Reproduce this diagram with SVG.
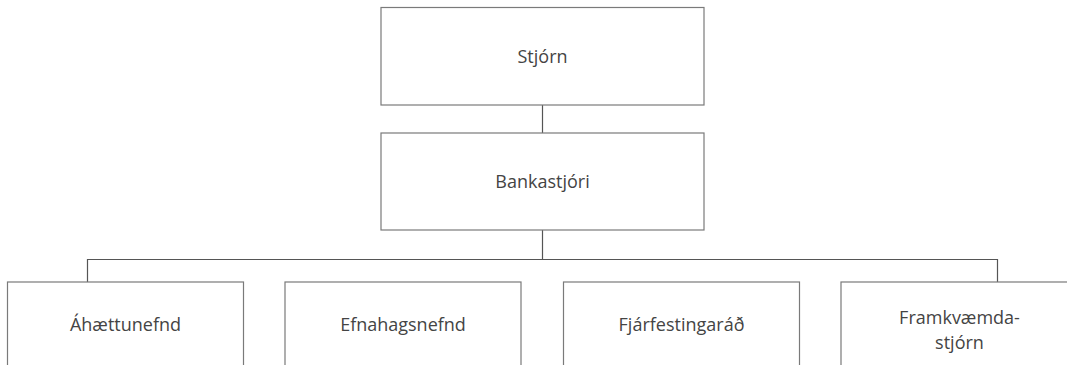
<svg xmlns="http://www.w3.org/2000/svg" width="1067" height="365" viewBox="0 0 1067 365">
  <style>
    .box { fill: #ffffff; stroke: #7a7a7a; stroke-width: 1.2; }
    .link { fill: none; stroke: #555555; stroke-width: 1.2; }
    .label { font-family: "Open Sans", "Noto Sans", sans-serif; font-size: 18px; fill: #444444; text-anchor: middle; }
  </style>
  <rect width="1067" height="365" fill="#ffffff"/>

  <!-- connectors -->
  <g id="connectors">
    <line class="link" x1="542.5" y1="105" x2="542.5" y2="133"/>
    <line class="link" x1="542.5" y1="230" x2="542.5" y2="259.5"/>
    <polyline class="link" points="87.5,282 87.5,259.5 997.5,259.5 997.5,282"/>
  </g>

  <g id="node-stjorn">
    <rect class="box" x="381" y="7.5" width="323" height="97.5"/>
    <text class="label" x="542.5" y="63">Stjórn</text>
  </g>

  <g id="node-bankastjori">
    <rect class="box" x="381" y="133" width="323" height="97"/>
    <text class="label" x="542.5" y="188">Bankastjóri</text>
  </g>

  <g id="node-ahaettunefnd">
    <rect class="box" x="7.5" y="282" width="236" height="120"/>
    <text class="label" x="125.5" y="331">Áhættunefnd</text>
  </g>

  <g id="node-efnahagsnefnd">
    <rect class="box" x="285" y="282" width="236" height="120"/>
    <text class="label" x="403" y="331">Efnahagsnefnd</text>
  </g>

  <g id="node-fjarfestingarad">
    <rect class="box" x="563.5" y="282" width="236" height="120"/>
    <text class="label" x="681.5" y="331">Fjárfestingaráð</text>
  </g>

  <g id="node-framkvaemdastjorn">
    <rect class="box" x="841" y="282" width="236" height="120"/>
    <text class="label" x="959.5" y="324">Framkvæmda-</text>
    <text class="label" x="959.5" y="348.5">stjórn</text>
  </g>
</svg>
